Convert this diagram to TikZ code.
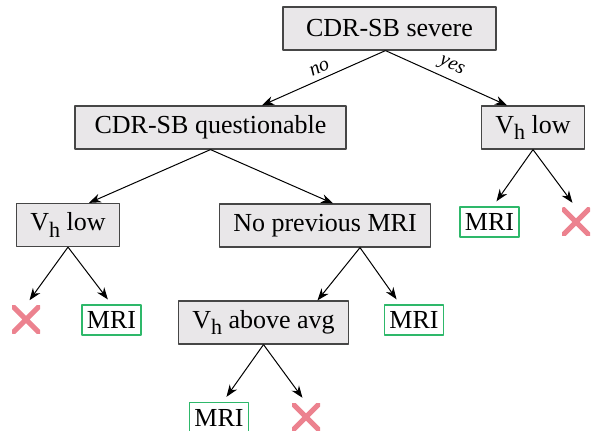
\documentclass[tikz,border=0pt]{standalone}
\usepackage{fontspec}
\setmainfont{Liberation Serif}
\usetikzlibrary{arrows.meta}
\definecolor{boxfill}{RGB}{233,231,233}
\definecolor{boxline}{RGB}{70,70,70}
\definecolor{mrigreen}{RGB}{46,184,106}
\definecolor{xred}{RGB}{236,130,143}
\newcommand{\Vh}{V\raisebox{-3.3pt}{\fontsize{11}{12}\selectfont h}}

\begin{document}
\begin{tikzpicture}[x=0.5pt, y=-0.5pt, >={Stealth[length=6pt, width=4.5pt]}, line join=round,
	font=\fontsize{13}{15.6}\selectfont,
	testbox/.style={draw=boxline, fill=boxfill, line width=0.6pt, minimum height=21.5pt, inner xsep=7pt, inner ysep=2pt},
	mri/.style={draw=mrigreen, line width=0.8pt, minimum height=15pt, inner xsep=2.5pt, inner ysep=1pt},
	nomri/.style={minimum size=14pt, inner sep=0pt, path picture={
		\draw[xred, line width=2.6pt] (path picture bounding box.north west) -- (path picture bounding box.south east)
			(path picture bounding box.north east) -- (path picture bounding box.south west);}},
	link/.style={->, line width=0.5pt},
	leaflink/.style={link, shorten >=3pt},
	ans/.style={font=\fontsize{10}{12}\selectfont\itshape, sloped, above, inner sep=2.5pt}]
	\useasboundingbox (0, 0) rectangle (592, 431);
	% Các nút kiểm tra
	\node[testbox, minimum width=106.5pt] (severe) at (389.5, 28.5) {CDR-SB severe};
	\node[testbox, minimum width=135.5pt] (quest) at (210.5, 127.5) {CDR-SB questionable};
	\node[testbox] (lowR) at (533, 127.5) {\Vh{} low};
	\node[testbox] (lowL) at (68, 225) {\Vh{} low};
	\node[testbox, minimum width=102pt] (prev) at (325, 225.5) {No previous MRI};
	\node[testbox] (avg) at (263.5, 322.5) {\Vh{} above avg};
	% Các lá
	\node[nomri] (xL) at (26, 319.5) {};
	\node[mri] (mriL) at (111.5, 320) {MRI};
	\node[mri] (mriP) at (414, 320) {MRI};
	\node[mri] (mriA) at (219, 417.5) {MRI};
	\node[nomri] (xA) at (306, 417) {};
	\node[mri] (mriR) at (489.5, 222) {MRI};
	\node[nomri] (xR) at (576, 222) {};
	% Các cạnh
	\draw[link] ([xshift=-2pt]severe.south) -- ([xshift=25.75pt]quest.north) node[ans, midway] {no};
	\draw[link] ([xshift=-2pt]severe.south) -- ([xshift=-13pt]lowR.north) node[ans, midway] {yes};
	\draw[link] (quest.south) -- ([xshift=10.5pt]lowL.north);
	\draw[link] (quest.south) -- ([xshift=4pt]prev.north);
	\draw[leaflink] (lowL.south) -- (xL.north);
	\draw[leaflink] (lowL.south) -- (mriL.north);
	\draw[link] ([xshift=17.5pt]prev.south) -- ([xshift=27pt]avg.north);
	\draw[leaflink] ([xshift=17.5pt]prev.south) -- ([xshift=-7pt]mriP.north);
	\draw[leaflink] (avg.south) -- ([xshift=2pt]mriA.north);
	\draw[leaflink] (avg.south) -- (xA.north);
	\draw[leaflink] (lowR.south) -- ([xshift=1.75pt]mriR.north);
	\draw[leaflink] (lowR.south) -- (xR.north);
\end{tikzpicture}
\end{document}
